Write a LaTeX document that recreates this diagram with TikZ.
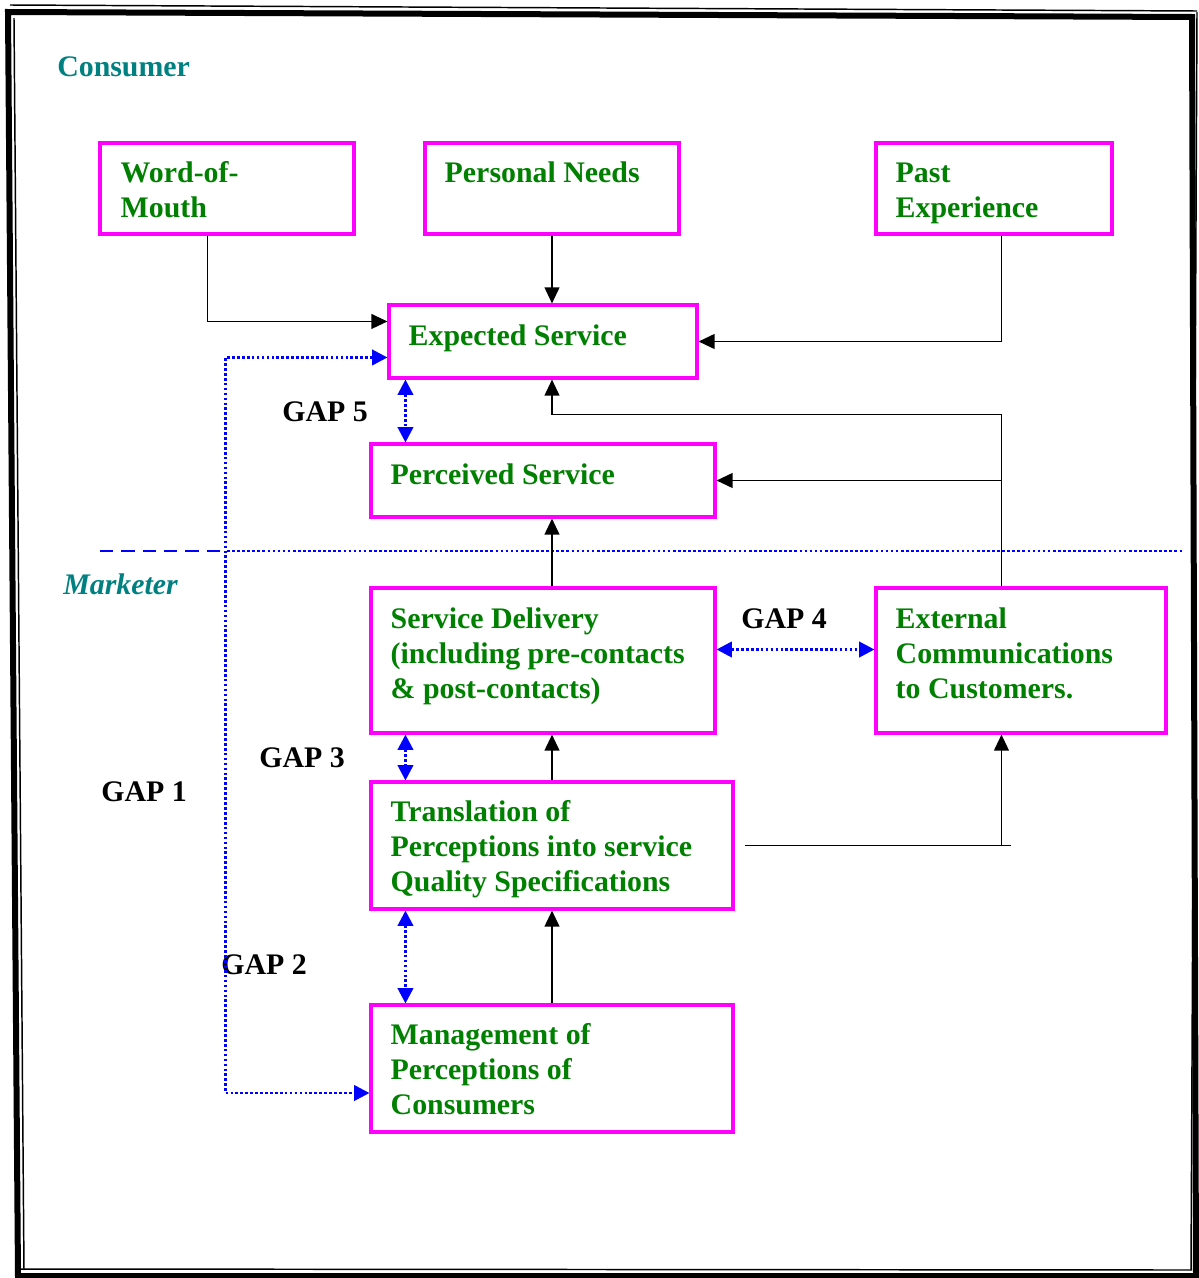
\documentclass[tikz,border=0pt]{standalone}
\usepackage{fontspec}
\setmainfont{Liberation Serif}
\usetikzlibrary{arrows.meta,calc,fit}
\definecolor{boxmag}{HTML}{FF00FF}
\definecolor{txtgreen}{HTML}{008000}
\definecolor{headteal}{HTML}{008080}
\definecolor{gapblue}{HTML}{0000FF}
\begin{document}
\begin{tikzpicture}[x=0.75pt,y=-0.75pt,
  box/.style={draw=boxmag, line width=2.3pt, inner sep=0pt},
  txt/.style={text=txtgreen, font=\bfseries\fontsize{22.4pt}{26.25pt}\selectfont,
    anchor=base west, inner sep=0pt, align=left},
  gaplbl/.style={text=black, font=\bfseries\fontsize{22.4pt}{26.25pt}\selectfont,
    anchor=base west, inner sep=0pt},
  head/.style={text=headteal, font=\bfseries\fontsize{22.4pt}{26.25pt}\selectfont,
    anchor=base west, inner sep=0pt},
  conn/.style={line width=1.4pt, -{Triangle[length=12pt,width=11pt]}},
  plainline/.style={line width=1.4pt},
  gap/.style={gapblue, line width=2.1pt, dash pattern=on 2pt off 1.7pt,
    {Triangle[length=11.5pt,width=11.5pt]}-{Triangle[length=11.5pt,width=11.5pt]}},
  frame/.style={line width=4.5pt, line join=miter},
  thinframe/.style={line width=1.1pt}]
\useasboundingbox (0,0) rectangle (1199,1278);
% frame
\draw[frame] (8,12) -- (1192,17) -- (1196,1276) -- (18,1276) -- cycle;
\draw[thinframe] (10,5) -- (1197,11);
\draw[thinframe] (14,18) -- (24,1270);
\draw[thinframe] (20,1269) -- (1192,1270);
\draw[thinframe] (1197,12) -- (1191,1270);
% headings
\node[head] (consumer) at (57,76) {Consumer};
\node[head, font=\bfseries\itshape\fontsize{22.4pt}{26.25pt}\selectfont] (marketer) at (63,594) {Marketer};
% boxes
\node[box, fit={(100,143) (354,234)}] (wom) {};
\node[box, fit={(425,143) (679,234)}] (pn) {};
\node[box, fit={(876,143) (1112,234)}] (pe) {};
\node[box, fit={(389,305) (697,378)}] (exp) {};
\node[box, fit={(371,444) (715,517)}] (per) {};
\node[box, fit={(371,588) (715,733)}] (sd) {};
\node[box, fit={(876,588) (1166,733)}] (ext) {};
\node[box, fit={(371,782) (733,909)}] (tr) {};
\node[box, fit={(371,1005) (733,1132)}] (mg) {};
% texts (anchor = baseline of the last line)
\node[txt] (womt) at ($(wom.north west)+(22,76)$) {Word-of-\\Mouth};
\node[txt] (pnt) at ($(pn.north west)+(21,41)$) {Personal Needs};
\node[txt] (pet) at ($(pe.north west)+(21,76)$) {Past\\Experience};
\node[txt] (expt) at ($(exp.north west)+(21,42)$) {Expected Service};
\node[txt] (pert) at ($(per.north west)+(21,42)$) {Perceived Service};
\node[txt] (sdt) at ($(sd.north west)+(21,112)$) {Service Delivery\\(including pre-contacts\\\& post-contacts)};
\node[txt] (extt) at ($(ext.north west)+(21,112)$) {External\\Communications\\to Customers.};
\node[txt] (trt) at ($(tr.north west)+(21,111)$) {Translation of\\Perceptions into service\\Quality Specifications};
\node[txt] (mgt) at ($(mg.north west)+(21,111)$) {Management of\\Perceptions of\\Consumers};
% gap labels
\node[gaplbl] (g5) at (282,421) {GAP 5};
\node[gaplbl] (g4) at (741,628) {GAP 4};
\node[gaplbl] (g3) at (259,767) {GAP 3};
\node[gaplbl] (g1) at (101,801) {GAP 1};
\node[gaplbl] (g2) at (221,974) {GAP 2};
% helper coordinates
\coordinate (extup) at ($(ext.north west)+(127,0)$);
\coordinate (gx) at ($(exp.south west)+(18,0)$);
% divider
\draw[gapblue, line width=2pt, dash pattern=on 10pt off 6pt] (100,551) -- (227,551);
\draw[gapblue, line width=2pt, dash pattern=on 2pt off 1.8pt] (227,551) -- (1183,551);
% black connectors
\draw[conn] ($(wom.south west)+(109,0)$) |- ($(exp.north west)+(0,18)$);
\draw[conn] (pn.south) -- (pn.south |- exp.north);
\draw[conn] ($(pe.south west)+(127,0)$) |- (exp.east);
\draw[conn] (extup) |- ($(pn.south |- exp.south)+(0,35)$) -- (pn.south |- exp.south);
\draw[conn] (extup |- per.east) -- (per.east);
\draw[conn] (pn.south |- sd.north) -- (pn.south |- per.south);
\draw[conn] (pn.south |- tr.north) -- (pn.south |- sd.south);
\draw[conn] (pn.south |- mg.north) -- (pn.south |- tr.south);
\draw[plainline] ($(tr.east)+(10,0)$) -- ($(extup |- tr.east)+(10,0)$);
\draw[conn] (extup |- tr.east) -- (extup |- ext.south);
% gap connectors
\draw[gap] (gx) -- (gx |- per.north);
\draw[gap] ($(sd.east)+(0,-11)$) -- ($(ext.west)+(0,-11)$);
\draw[gap] (gx |- sd.south) -- (gx |- tr.north);
\draw[gap] (gx |- tr.south) -- (gx |- mg.north);
\draw[gap] ($(exp.north west)+(0,54)$) -| ($(mg.west)+(-144,24.5)$) -- ($(mg.west)+(0,24.5)$);
\end{tikzpicture}
\end{document}
